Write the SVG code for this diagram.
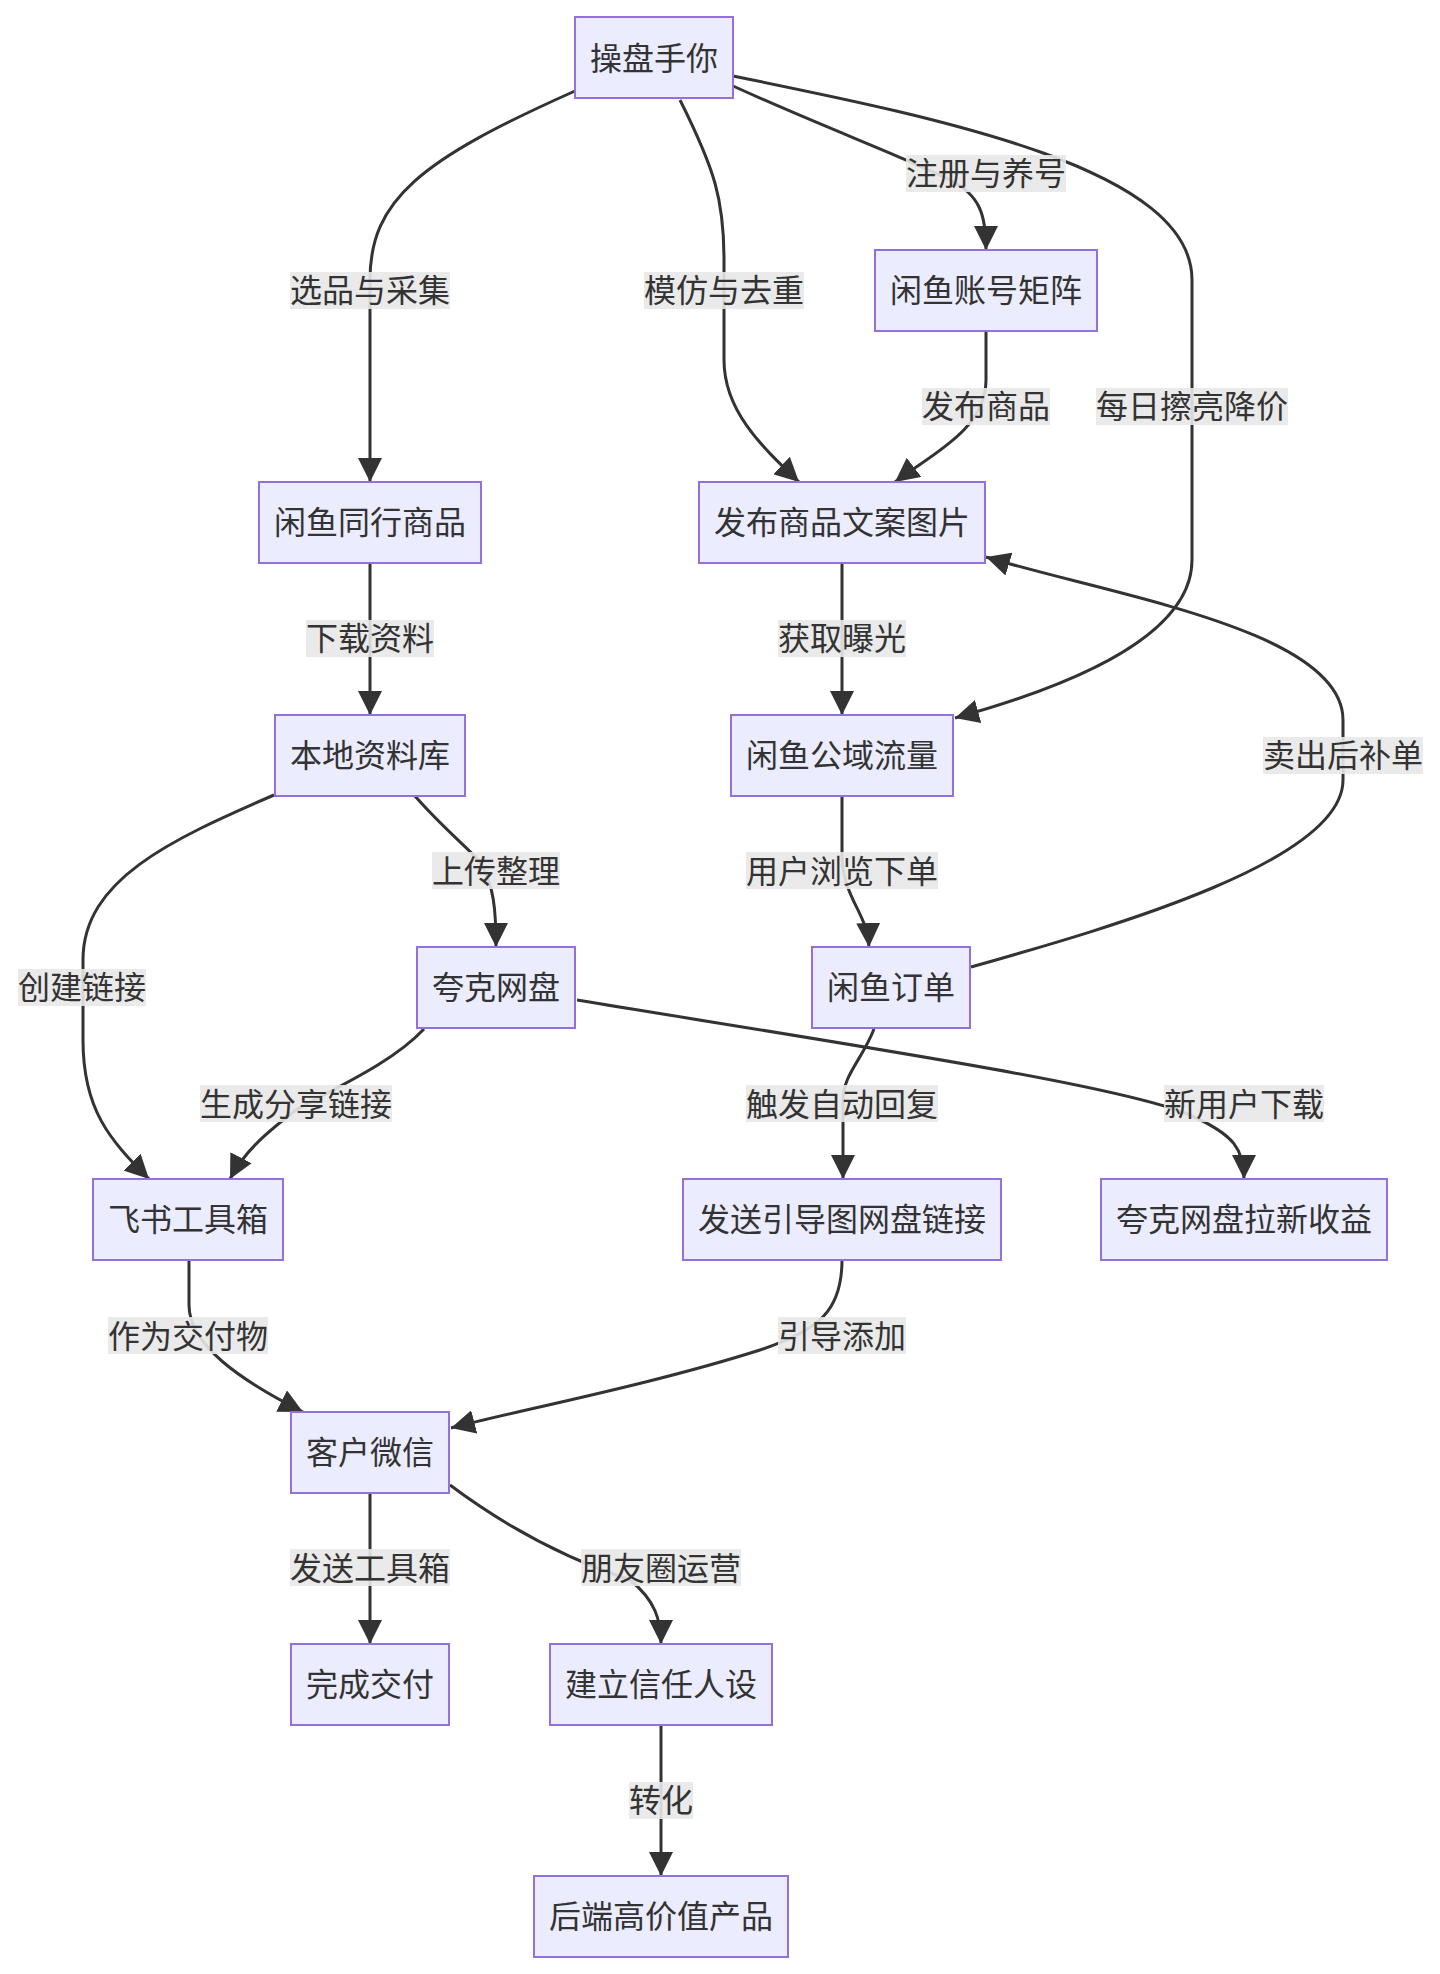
<svg xmlns="http://www.w3.org/2000/svg" width="1440" height="1974" viewBox="0 0 1440 1974">
<style>
.node rect{fill:#ECECFF;stroke:#9370DB;stroke-width:2}
.node text,.lbl text{font-family:"Noto Sans CJK SC","Noto Sans",sans-serif;font-size:32px;fill:#333;text-anchor:middle;dominant-baseline:central;transform:translateY(-2px)}
.edge{fill:none;stroke:#333;stroke-width:3;marker-end:url(#arr)}
.lbl rect{fill:#e8e8e8;opacity:0.9}
</style>
<defs>
<marker id="arr" markerUnits="userSpaceOnUse" markerWidth="24" markerHeight="24" viewBox="0 0 24 24" refX="24" refY="12" orient="auto">
<path d="M0,0 L24,12 L0,24 z" fill="#333"/>
</marker>
</defs>
<rect width="1440" height="1974" fill="#fff"/>
<g id="connectors">
<path class="edge" d="M575,91 C420,160 370,200 370,280 L370,482"/>
<path class="edge" d="M680,100 C715,170 724,200 724,260 L724,360 C724,410 760,445 799,482"/>
<path class="edge" d="M733,86 C830,130 900,155 950,180 C980,195 986,215 986,250"/>
<path class="edge" d="M986,331 L986,380 C986,430 930,455 895,482"/>
<path class="edge" d="M733,76 C950,120 1192,170 1192,280 L1192,560 C1192,650 1020,700 955,718"/>
<path class="edge" d="M370,563 L370,715"/>
<path class="edge" d="M842,563 L842,715"/>
<path class="edge" d="M415,796 C440,825 470,850 480,862 C494,885 496,910 496,947"/>
<path class="edge" d="M274,795 C170,840 83,880 83,960 L83,1040 C83,1110 110,1140 149,1179"/>
<path class="edge" d="M424,1029 C390,1065 330,1090 296,1110 C270,1130 245,1150 230,1179"/>
<path class="edge" d="M577,1000 C850,1045 1120,1085 1190,1115 C1235,1135 1244,1150 1244,1179"/>
<path class="edge" d="M842,796 L842,860 C845,900 868,915 869,947"/>
<path class="edge" d="M971,967 C1120,925 1343,860 1343,780 L1343,720 C1343,630 1110,595 986,557"/>
<path class="edge" d="M874,1029 C862,1060 843,1075 843,1100 L843,1179"/>
<path class="edge" d="M189,1260 L189,1305 C189,1345 240,1380 303,1412"/>
<path class="edge" d="M842,1260 C842,1310 820,1330 760,1350 C650,1385 520,1410 451,1428"/>
<path class="edge" d="M370,1493 L370,1644"/>
<path class="edge" d="M450,1485 C530,1545 600,1570 630,1580 C655,1600 661,1620 661,1644"/>
<path class="edge" d="M661,1725 L661,1876"/>
</g>
<g id="edge-labels">
<g class="lbl"><rect x="290" y="272" width="160" height="37"/><text x="370" y="290">选品与采集</text></g>
<g class="lbl"><rect x="644" y="272" width="160" height="37"/><text x="724" y="290">模仿与去重</text></g>
<g class="lbl"><rect x="906" y="155" width="160" height="37"/><text x="986" y="173">注册与养号</text></g>
<g class="lbl"><rect x="922" y="388" width="128" height="37"/><text x="986" y="406">发布商品</text></g>
<g class="lbl"><rect x="1096" y="388" width="192" height="37"/><text x="1192" y="406">每日擦亮降价</text></g>
<g class="lbl"><rect x="306" y="620" width="128" height="37"/><text x="370" y="638">下载资料</text></g>
<g class="lbl"><rect x="778" y="620" width="128" height="37"/><text x="842" y="638">获取曝光</text></g>
<g class="lbl"><rect x="1263" y="737" width="160" height="37"/><text x="1343" y="755">卖出后补单</text></g>
<g class="lbl"><rect x="432" y="852" width="128" height="37"/><text x="496" y="871">上传整理</text></g>
<g class="lbl"><rect x="746" y="852" width="192" height="37"/><text x="842" y="871">用户浏览下单</text></g>
<g class="lbl"><rect x="18" y="969" width="128" height="37"/><text x="82" y="987">创建链接</text></g>
<g class="lbl"><rect x="200" y="1085" width="192" height="37"/><text x="296" y="1104">生成分享链接</text></g>
<g class="lbl"><rect x="746" y="1085" width="192" height="37"/><text x="842" y="1104">触发自动回复</text></g>
<g class="lbl"><rect x="1164" y="1085" width="160" height="37"/><text x="1244" y="1104">新用户下载</text></g>
<g class="lbl"><rect x="108" y="1317" width="160" height="37"/><text x="188" y="1336">作为交付物</text></g>
<g class="lbl"><rect x="778" y="1317" width="128" height="37"/><text x="842" y="1336">引导添加</text></g>
<g class="lbl"><rect x="290" y="1549" width="160" height="37"/><text x="370" y="1568">发送工具箱</text></g>
<g class="lbl"><rect x="581" y="1549" width="160" height="37"/><text x="661" y="1568">朋友圈运营</text></g>
<g class="lbl"><rect x="629" y="1782" width="64" height="37"/><text x="661" y="1800">转化</text></g>
</g>
<g id="n1" class="node"><rect x="575" y="17" width="158" height="81"/><text x="654" y="58">操盘手你</text></g>
<g id="n2" class="node"><rect x="875" y="250" width="222" height="81"/><text x="986" y="290">闲鱼账号矩阵</text></g>
<g id="n3" class="node"><rect x="259" y="482" width="222" height="81"/><text x="370" y="522">闲鱼同行商品</text></g>
<g id="n4" class="node"><rect x="699" y="482" width="286" height="81"/><text x="842" y="522">发布商品文案图片</text></g>
<g id="n5" class="node"><rect x="275" y="715" width="190" height="81"/><text x="370" y="755">本地资料库</text></g>
<g id="n6" class="node"><rect x="731" y="715" width="222" height="81"/><text x="842" y="755">闲鱼公域流量</text></g>
<g id="n7" class="node"><rect x="417" y="947" width="158" height="81"/><text x="496" y="987">夸克网盘</text></g>
<g id="n8" class="node"><rect x="812" y="947" width="158" height="81"/><text x="891" y="987">闲鱼订单</text></g>
<g id="n9" class="node"><rect x="93" y="1179" width="190" height="81"/><text x="188" y="1219">飞书工具箱</text></g>
<g id="n10" class="node"><rect x="683" y="1179" width="318" height="81"/><text x="842" y="1219">发送引导图网盘链接</text></g>
<g id="n11" class="node"><rect x="1101" y="1179" width="286" height="81"/><text x="1244" y="1219">夸克网盘拉新收益</text></g>
<g id="n12" class="node"><rect x="291" y="1412" width="158" height="81"/><text x="370" y="1452">客户微信</text></g>
<g id="n13" class="node"><rect x="291" y="1644" width="158" height="81"/><text x="370" y="1684">完成交付</text></g>
<g id="n14" class="node"><rect x="550" y="1644" width="222" height="81"/><text x="661" y="1684">建立信任人设</text></g>
<g id="n15" class="node"><rect x="534" y="1876" width="254" height="81"/><text x="661" y="1916">后端高价值产品</text></g>
</svg>
